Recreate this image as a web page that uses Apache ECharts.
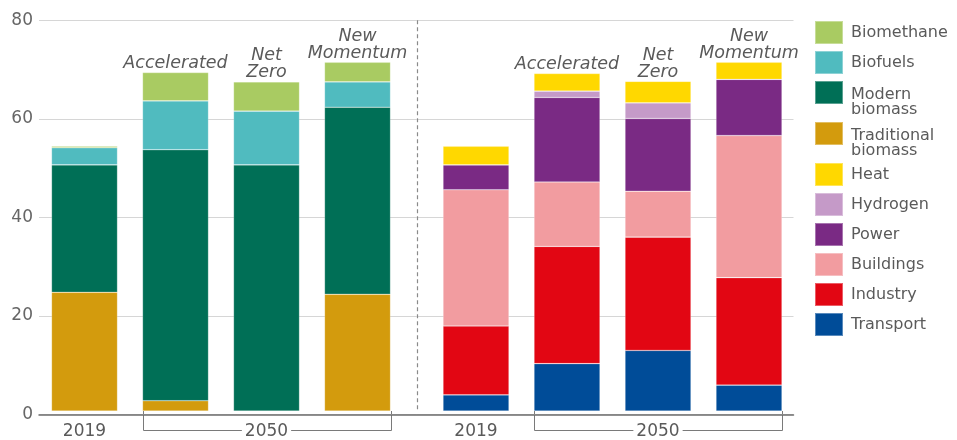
<!DOCTYPE html>
<html>
<head>
<meta charset="utf-8">
<script src="https://cdn.jsdelivr.net/npm/echarts@6/dist/echarts.min.js"></script>
<style>
  html, body { margin: 0; padding: 0; background: #fff; }
  #chart { width: 957px; height: 440px; }
</style>
</head>
<body>
<div id="chart"></div>
<script>
// Categories: the 2019 base year and the three 2050 scenarios
const periods = ['2019', 'Accelerated', 'Net Zero', 'New Momentum'];
const scenarioNames = ['', 'Accelerated', 'Net\nZero', 'New\nMomentum'];
const periodLabels = ['2019', '', '2050', ''];
const yTicks = [0, 20, 40, 60, 80];

// Bioenergy supply by source (left panel)
const traditionalBiomass = [24.3, 2.1, 0, 23.9];
const modernBiomass = [26.1, 51.4, 50.4, 38.3];
const biofuels = [3.5, 10.0, 11.0, 5.2];
const biomethane = [0.3, 5.8, 6.0, 4.0];

// Bioenergy use by sector (right panel)
const transport = [3.3, 9.7, 12.4, 5.3];
const industry = [14.1, 24.0, 23.2, 22.0];
const buildings = [27.9, 13.2, 9.4, 29.1];
const power = [5.1, 17.3, 14.9, 11.5];
const hydrogen = [0, 1.3, 3.2, 0];
const heat = [3.8, 3.6, 4.4, 3.5];

// Legend groups, top to bottom
const legendSources1 = ['Biomethane', 'Biofuels'];
const legendSources2 = ['Modern biomass'];
const legendSources3 = ['Traditional biomass'];
const legendSectors = ['Heat', 'Hydrogen', 'Power', 'Buildings', 'Industry', 'Transport'];

const colors = {
  'Biomethane': '#a9cb62',
  'Biofuels': '#50bbbf',
  'Modern biomass': '#006f56',
  'Traditional biomass': '#d39b0d',
  'Heat': '#ffd800',
  'Hydrogen': '#c59ac8',
  'Power': '#7a2a84',
  'Buildings': '#f29ca0',
  'Industry': '#e20613',
  'Transport': '#004c98'
};

const FONT = 'DejaVu Sans';
const TEXT = '#5a5a5a';
const yMin = yTicks[0], yMax = yTicks[yTicks.length - 1], yStep = yTicks[1] - yTicks[0];

const scenarioLabel = {
  show: true,
  position: 'top',
  distance: 0.5,
  fontFamily: FONT,
  fontStyle: 'italic',
  fontSize: 17.5,
  lineHeight: 17,
  color: TEXT,
  formatter: p => scenarioNames[p.dataIndex]
};

function barSeries(name, data, gridIdx, stack, label) {
  return {
    name, type: 'bar', stack, data,
    xAxisIndex: gridIdx, yAxisIndex: gridIdx,
    barWidth: 66,
    itemStyle: { color: colors[name], borderColor: 'rgba(255,255,255,0.35)', borderWidth: 0.6 },
    label: label || { show: false },
    emphasis: { disabled: true }
  };
}

const periodAxis = idx => ({
  type: 'category', gridIndex: idx, data: periods,
  axisLine: { show: false }, axisTick: { show: false },
  axisLabel: {
    interval: 0, margin: 12,
    fontFamily: FONT, fontSize: 17, color: TEXT,
    backgroundColor: '#fff', padding: [0, 3],
    formatter: (v, i) => periodLabels[i]
  }
});

const hiddenY = idx => ({
  type: 'value', gridIndex: idx, min: yMin, max: yMax, interval: yStep, show: false
});

// Two-line entries hang below the swatch's middle: an empty first row pushes the text down
const legendRich = {
  gap: { fontFamily: FONT, fontSize: 16, lineHeight: 20, color: TEXT },
  t: { fontFamily: FONT, fontSize: 16, lineHeight: 15, color: TEXT }
};

function legendBlock(names, top, twoLine) {
  return {
    orient: 'vertical', left: 814, top, padding: 0,
    itemGap: 5, itemWidth: 28, itemHeight: 23, icon: 'rect',
    selectedMode: false,
    data: names,
    formatter: twoLine
      ? n => '{gap| }\n' + n.split(' ').map(w => '{t|' + w + '}').join('\n')
      : n => n,
    textStyle: {
      fontFamily: FONT, fontSize: 16, lineHeight: 15, color: TEXT,
      padding: [0, 0, 0, 3],
      rich: legendRich
    }
  };
}

const chart = echarts.init(document.getElementById('chart'), null, { renderer: 'canvas' });

chart.setOption({
  animation: false,
  backgroundColor: '#fff',
  grid: [
    { left: 39, right: 163.5, top: 20.3, bottom: 25.5 },
    { left: 39, width: 364, top: 20.3, bottom: 25.5 },
    { left: 430.5, width: 364, top: 20.3, bottom: 25.5 }
  ],
  xAxis: [
    {
      type: 'category', gridIndex: 0, data: [''],
      axisLine: { show: true, lineStyle: { color: '#6e6e6e', width: 1.5 } },
      axisTick: { show: false }, axisLabel: { show: false }
    },
    periodAxis(1),
    periodAxis(2)
  ],
  yAxis: [
    {
      type: 'value', gridIndex: 0, min: yMin, max: yMax, interval: yStep,
      axisLine: { show: false }, axisTick: { show: false },
      axisLabel: { margin: 6, fontFamily: FONT, fontSize: 17, color: '#666' },
      splitLine: { lineStyle: { color: '#d6d6d6', width: 1 } }
    },
    hiddenY(1),
    hiddenY(2)
  ],
  legend: [
    legendBlock(legendSources1, 20, false),
    legendBlock(legendSources2, 67.5, true),
    legendBlock(legendSources3, 108.5, true),
    legendBlock(legendSectors, 162, false)
  ],
  series: [
    barSeries('Traditional biomass', traditionalBiomass, 1, 'supply'),
    barSeries('Modern biomass', modernBiomass, 1, 'supply'),
    barSeries('Biofuels', biofuels, 1, 'supply'),
    barSeries('Biomethane', biomethane, 1, 'supply', scenarioLabel),
    barSeries('Transport', transport, 2, 'use'),
    barSeries('Industry', industry, 2, 'use'),
    barSeries('Buildings', buildings, 2, 'use'),
    barSeries('Power', power, 2, 'use'),
    barSeries('Hydrogen', hydrogen, 2, 'use'),
    barSeries('Heat', heat, 2, 'use', scenarioLabel)
  ]
});

// Panel divider and the "2050" brackets, placed from the axes' own scales
function bracket(gridIdx) {
  const half = 33;
  const a = chart.convertToPixel({ xAxisIndex: gridIdx, yAxisIndex: gridIdx }, [1, yMin]);
  const b = chart.convertToPixel({ xAxisIndex: gridIdx, yAxisIndex: gridIdx }, [3, yMin]);
  const x0 = Math.round(a[0] - half) + 0.5, x1 = Math.round(b[0] + half) + 0.5;
  const yTop = a[1], yLow = a[1] + 19.5;
  return {
    type: 'polyline', z: -1, silent: true,
    shape: { points: [[x0, yTop], [x0, yLow], [x1, yLow], [x1, yTop]] },
    style: { stroke: '#7a7a7a', lineWidth: 1, fill: null }
  };
}

const leftEnd = chart.convertToPixel({ xAxisIndex: 1, yAxisIndex: 1 }, [3, yMin]);
const rightStart = chart.convertToPixel({ xAxisIndex: 2, yAxisIndex: 2 }, [0, yMax]);
const dividerX = Math.round((leftEnd[0] + 45.5 + rightStart[0] - 45.5) / 2) + 0.5;

chart.setOption({
  graphic: [
    bracket(1),
    bracket(2),
    {
      type: 'line', silent: true,
      shape: { x1: dividerX, y1: rightStart[1], x2: dividerX, y2: leftEnd[1] },
      style: { stroke: '#8a8a8a', lineWidth: 1.2, lineDash: [4, 3] }
    }
  ]
});
</script>
</body>
</html>
